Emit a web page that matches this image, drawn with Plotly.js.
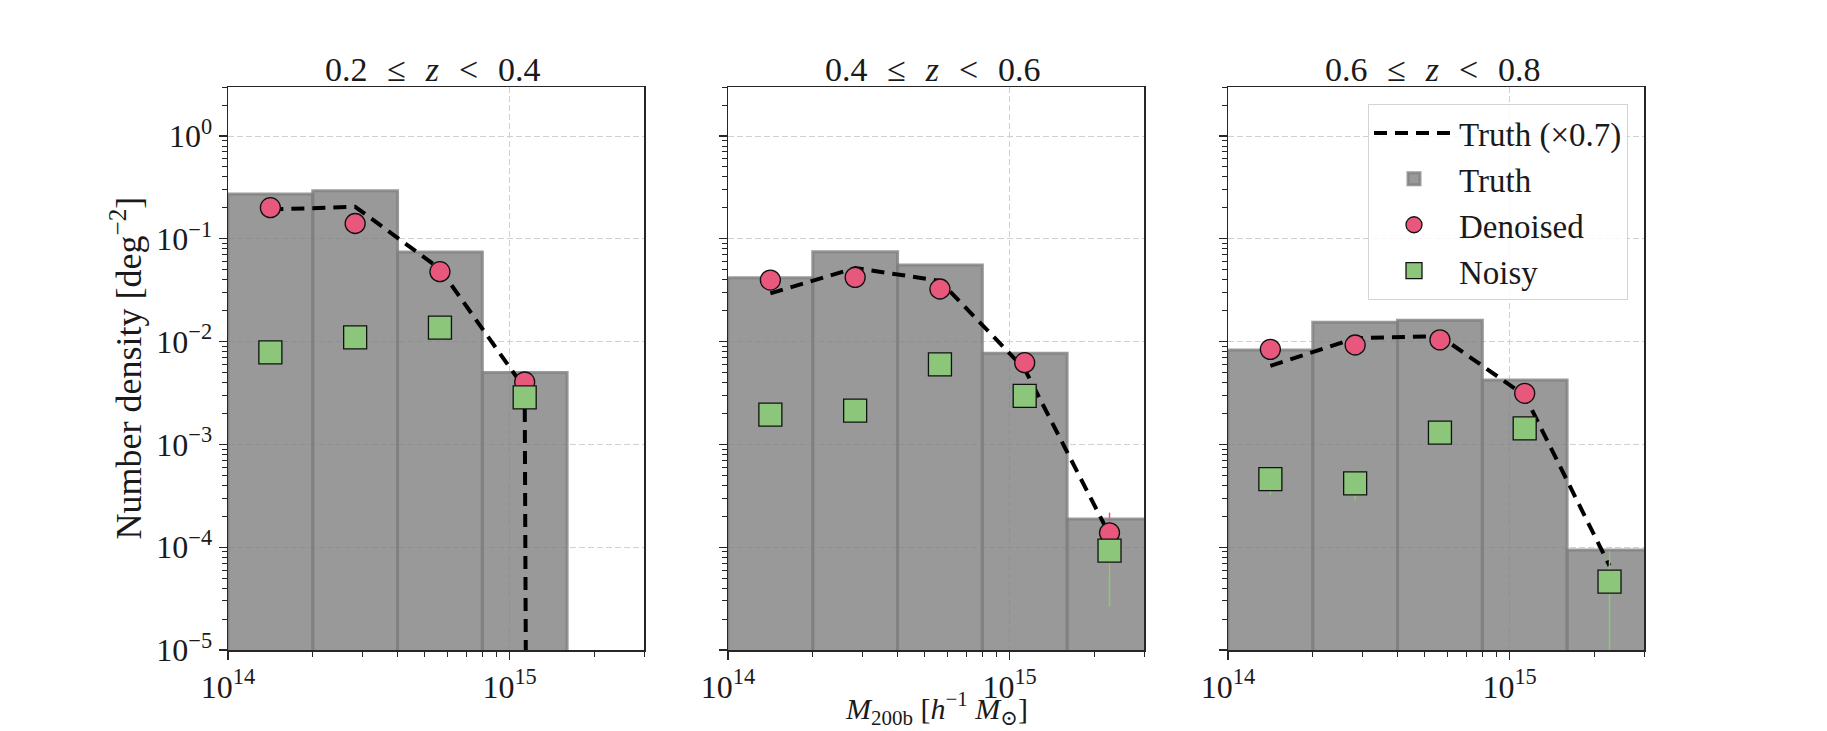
<!DOCTYPE html>
<html><head><meta charset="utf-8">
<script src="https://cdn.plot.ly/plotly-3.0.1.min.js"></script>
<style>html,body{margin:0;padding:0;background:#fff;}</style>
</head><body><div id="chart" style="width:1827px;height:731px;"></div>
<script>
// ---- data ----
const zLow = ['0.2', '0.4', '0.6'];
const zHigh = ['0.4', '0.6', '0.8'];
const massEdges = [1e14, 2e14, 4e14, 8e14, 1.6e15, 3.2e15];
const massCenters = [1.414e14, 2.828e14, 5.657e14, 1.131e15, 2.263e15];

const truthHist1 = [0.273, 0.294, 0.0745, 0.00502, 0];
const truthHist2 = [0.0419, 0.0750, 0.0556, 0.00769, 1.88e-4];
const truthHist3 = [0.00828, 0.0154, 0.0161, 0.00423, 9.4e-5];

const truthScaled1 = [0.193, 0.205, 0.051, 0.0035, 0];
const truthScaled2 = [0.0295, 0.052, 0.039, 0.0054, 1.32e-4];
const truthScaled3 = [0.0058, 0.0108, 0.0113, 0.0030, 6.6e-5];

const denoised1 = [0.201, 0.141, 0.0479, 0.00405, null];
const denoised2 = [0.0397, 0.0422, 0.0325, 0.00624, 1.38e-4];
const denoised3 = [0.00841, 0.00927, 0.0104, 0.00314, null];
const denoisedErr1 = [0, 0, 0, 0, 0];
const denoisedErr2 = [0, 0, 0, 0, 7.9e-5];
const denoisedErr3 = [0, 0, 0, 0, 0];

const noisy1 = [0.00787, 0.0110, 0.0137, 0.00287, null];
const noisy2 = [0.00195, 0.00213, 0.00601, 0.00296, 9.25e-5];
const noisy3 = [4.6e-4, 4.18e-4, 0.0013, 0.00143, 4.62e-5];
const noisyErrPlus1 = [0, 0, 0, 0, 0];
const noisyErrMinus1 = [0, 0, 0, 0, 0];
const noisyErrPlus2 = [0, 0, 0, 0, 0];
const noisyErrMinus2 = [0, 0, 0, 0, 6.6e-5];
const noisyErrPlus3 = [1.38e-4, 1.35e-4, 0, 0, 4.5e-5];
const noisyErrMinus3 = [1.38e-4, 1.35e-4, 0, 0, 4.62e-5];

const xTickVals = [1e14, 1e15];
const xTickText = ['10<sup>14</sup>', '10<sup>15</sup>'];
const yTickVals = [1e-5, 1e-4, 1e-3, 1e-2, 1e-1, 1];
const yTickText = ['10<sup>−5</sup>', '10<sup>−4</sup>', '10<sup>−3</sup>', '10<sup>−2</sup>', '10<sup>−1</sup>', '10<sup>0</sup>'];

// ---- build ----
const truthHist = [truthHist1, truthHist2, truthHist3];
const truthScaled = [truthScaled1, truthScaled2, truthScaled3];
const denoised = [denoised1, denoised2, denoised3];
const denoisedErr = [denoisedErr1, denoisedErr2, denoisedErr3];
const noisy = [noisy1, noisy2, noisy3];
const noisyErrPlus = [noisyErrPlus1, noisyErrPlus2, noisyErrPlus3];
const noisyErrMinus = [noisyErrMinus1, noisyErrMinus2, noisyErrMinus3];

const FONT = 'Liberation Serif, DejaVu Serif, serif';
const TXT = '#1a1a1a';
const AX = '#262626';
const PINK = '#e8577c';
const GREEN = '#8cc67a';

const binLefts = massEdges.slice(0, massEdges.length - 1);
const binWidths = binLefts.map((e, i) => massEdges[i + 1] - e);

function minorVals(lo, hi) {
  const out = [];
  for (let n = lo; n <= hi; n++) for (let k = 2; k <= 9; k++) out.push(k * Math.pow(10, n));
  return out;
}

const traces = [];
const axNames = [['x', 'y'], ['x2', 'y2'], ['x3', 'y3']];
for (let p = 0; p < 3; p++) {
  const [xa, ya] = axNames[p];
  const leg = p === 2;
  traces.push({
    type: 'bar', x: binLefts, y: truthHist[p], width: binWidths, offset: 0,
    xaxis: xa, yaxis: ya, name: 'Truth', legendrank: 2, showlegend: leg, hoverinfo: 'skip',
    marker: {color: 'rgba(128,128,128,0.8)', line: {color: 'rgba(128,128,128,0.8)', width: 3}}
  });
  traces.push({
    type: 'scatter', mode: 'lines', x: massCenters,
    y: truthScaled[p].map(v => (v > 0 ? v : 1e-200)),
    xaxis: xa, yaxis: ya, name: 'Truth (×0.7)', legendrank: 1, showlegend: leg, hoverinfo: 'skip',
    line: {color: '#000', width: 4, dash: '13px,8px'}
  });
  traces.push({
    type: 'scatter', mode: 'markers', x: massCenters, y: denoised[p],
    xaxis: xa, yaxis: ya, name: 'Denoised', legendrank: 3, showlegend: leg,
    error_y: {type: 'data', array: denoisedErr[p], visible: true, color: PINK, thickness: 1.5, width: 0},
    marker: {symbol: 'circle', size: 20, color: PINK, line: {color: '#111', width: 1.3}}
  });
  traces.push({
    type: 'scatter', mode: 'markers', x: massCenters, y: noisy[p],
    xaxis: xa, yaxis: ya, name: 'Noisy', legendrank: 4, showlegend: leg,
    error_y: {type: 'data', symmetric: false, array: noisyErrPlus[p], arrayminus: noisyErrMinus[p], visible: true, color: GREEN, thickness: 1.5, width: 0},
    marker: {symbol: 'square', size: 23, color: GREEN, line: {color: '#111', width: 1.3}}
  });
}

const W = 1827, H = 731, L = 228, R = 183, T = 87, B = 81;
const PW = W - L - R, PH = H - T - B;
const doms = [[0, 416 / PW], [500 / PW, 916 / PW], [1000 / PW, 1]];

function xAxis(i) {
  return {
    type: 'log', range: [14, Math.log10(3e15)], domain: doms[i], anchor: axNames[i][1],
    tickmode: 'array', tickvals: xTickVals, ticktext: xTickText,
    ticks: 'outside', ticklen: 8, tickwidth: 1.2, tickcolor: AX,
    showline: true, linecolor: AX, linewidth: 1.5, mirror: true,
    showgrid: true, gridcolor: '#d0d0d0', gridwidth: 1, griddash: '6px,3px', zeroline: false,
    tickfont: {family: FONT, size: 32, color: TXT},
    minor: {tickmode: 'array', tickvals: minorVals(14, 15), ticks: 'outside', ticklen: 5, tickwidth: 1, tickcolor: AX, showgrid: false},
    fixedrange: true
  };
}
function yAxis(i) {
  return {
    type: 'log', range: [-5, Math.log10(3)], domain: [0, 1], anchor: axNames[i][0],
    tickmode: 'array', tickvals: yTickVals, ticktext: yTickText, showticklabels: i === 0,
    ticks: 'outside', ticklen: 8, tickwidth: 1.2, tickcolor: AX,
    showline: true, linecolor: AX, linewidth: 1.5, mirror: true,
    showgrid: true, gridcolor: '#d0d0d0', gridwidth: 1, griddash: '6px,3px', zeroline: false,
    tickfont: {family: FONT, size: 32, color: TXT},
    minor: {tickmode: 'array', tickvals: minorVals(-5, 0), ticks: 'outside', ticklen: 5, tickwidth: 1, tickcolor: AX, showgrid: false},
    fixedrange: true
  };
}

const SP = '\u2002\u200A';
const annotations = [];
for (let p = 0; p < 3; p++) {
  annotations.push({
    xref: 'paper', yref: 'paper', x: (doms[p][0] + doms[p][1]) / 2, y: 1, yanchor: 'bottom', xanchor: 'center',
    xshift: -4, yshift: -3, showarrow: false,
    text: zLow[p] + SP + '≤' + SP + '<i>z</i>' + SP + '&lt;' + SP + zHigh[p],
    font: {family: FONT, size: 34, color: TXT}
  });
}
annotations.push({
  xref: 'paper', yref: 'paper', x: (126 - L) / PW, y: 0.5, xanchor: 'center', yanchor: 'middle',
  textangle: -90, showarrow: false, text: 'Number density [deg<sup>−2</sup>]',
  font: {family: FONT, size: 36, color: TXT}
});
annotations.push({
  xref: 'paper', yref: 'paper', x: (doms[1][0] + doms[1][1]) / 2, y: (650 - 708) / PH, xanchor: 'center', yanchor: 'middle',
  showarrow: false, text: '<i>M</i><sub>200b</sub> [<i>h</i><sup>−1</sup> <i>M</i><sub>⊙</sub>]',
  font: {family: FONT, size: 30, color: TXT}
});

const layout = {
  width: W, height: H, margin: {l: L, r: R, t: T, b: B, pad: 0},
  paper_bgcolor: '#fff', plot_bgcolor: '#fff',
  barmode: 'overlay', bargap: 0,
  xaxis: xAxis(0), xaxis2: xAxis(1), xaxis3: xAxis(2),
  yaxis: yAxis(0), yaxis2: yAxis(1), yaxis3: yAxis(2),
  annotations: annotations,
  showlegend: true,
  legend: {
    x: (1628 - L) / PW, y: (650 - 104) / PH, xanchor: 'right', yanchor: 'top',
    bgcolor: 'rgba(255,255,255,0.85)', bordercolor: '#d4d4d4', borderwidth: 1,
    font: {family: FONT, size: 33, color: TXT}, itemwidth: 80, traceorder: 'normal',
    tracegroupgap: 0
  }
};

Plotly.newPlot('chart', traces, layout, {displayModeBar: false, staticPlot: true});
</script>
</body></html>
